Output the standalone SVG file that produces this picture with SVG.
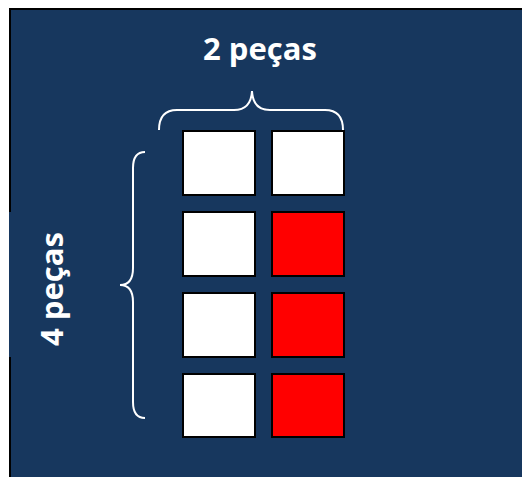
<svg xmlns="http://www.w3.org/2000/svg" width="522" height="477" viewBox="0 0 522 477">
  <style>
    .bg { fill: #17375e; }
    .border { stroke: #000; stroke-width: 2; fill: none; }
    .piece { stroke: #000; stroke-width: 2; }
    .white { fill: #ffffff; }
    .red { fill: #ff0000; }
    .brace { fill: none; stroke: #ffffff; stroke-width: 2; }
    .label { fill: #ffffff; font-family: "Open Sans", "Liberation Sans", sans-serif; font-weight: bold; font-size: 31px; text-anchor: middle; }
  </style>
  <rect x="0" y="0" width="522" height="477" fill="#ffffff"/>
  <rect class="bg" x="9" y="8" width="513" height="469"/>
  <g id="frame">
    <line class="border" x1="9" y1="9" x2="522" y2="9"/>
    <line class="border" x1="10" y1="8" x2="10" y2="212"/>
    <line class="border" x1="10" y1="357" x2="10" y2="477"/>
  </g>
  <g id="label-top">
    <text class="label" x="260" y="60">2 peças</text>
  </g>
  <g id="label-left">
    <text class="label" x="63" y="289" transform="rotate(-90 63 289)">4 peças</text>
  </g>
  <g id="connectors">
    <path class="brace" d="M159,130 Q159,110 177,110 L234,110 Q251,110 252,91 Q253,110 270,110 L325,110 Q343,110 343,130"/>
    <path class="brace" d="M145,152 Q133,152 133,168 L133,268 Q133,285 120,285 Q133,285 133,302 L133,402 Q133,418 145,418"/>
  </g>
  <g id="r1c1"><rect class="piece white" x="183" y="131" width="72" height="64"/></g>
  <g id="r1c2"><rect class="piece white" x="272" y="131" width="72" height="64"/></g>
  <g id="r2c1"><rect class="piece white" x="183" y="212" width="72" height="64"/></g>
  <g id="r2c2"><rect class="piece red" x="272" y="212" width="72" height="64"/></g>
  <g id="r3c1"><rect class="piece white" x="183" y="293" width="72" height="64"/></g>
  <g id="r3c2"><rect class="piece red" x="272" y="293" width="72" height="64"/></g>
  <g id="r4c1"><rect class="piece white" x="183" y="374" width="72" height="63"/></g>
  <g id="r4c2"><rect class="piece red" x="272" y="374" width="72" height="63"/></g>
</svg>
